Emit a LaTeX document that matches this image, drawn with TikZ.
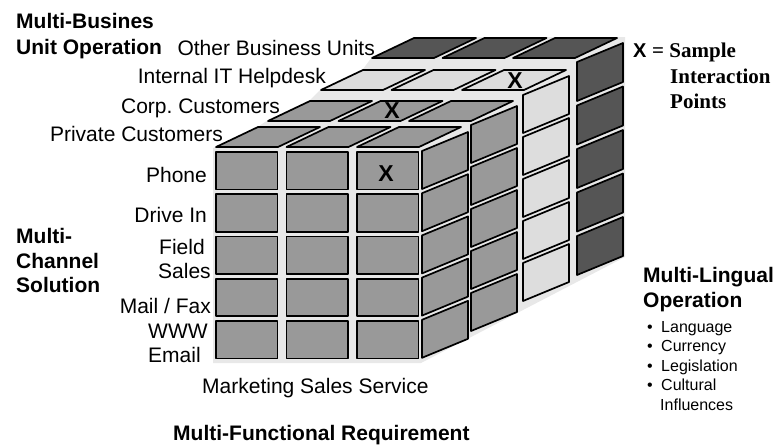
\documentclass[tikz,border=0pt]{standalone}
\usepackage{fontspec}
\setmainfont{Liberation Sans}
\newfontfamily\tnr{Liberation Serif}

\definecolor{bgface}{HTML}{E8E8E8}
\definecolor{midcell}{HTML}{999999}
\definecolor{lightcell}{HTML}{DDDDDD}
\definecolor{darkcell}{HTML}{555555}

\newcommand\lblsize{\fontsize{21}{24}\selectfont}
\newcommand\bulsize{\fontsize{16}{19}\selectfont}
\newcommand\marksize{\fontsize{23}{26}\selectfont}

\begin{document}
\frenchspacing
\begin{tikzpicture}[x=1pt,y=-1pt,
  cellline/.style={draw=black, line width=1.7pt, line join=round},
  lbl/.style={inner sep=0pt, font=\lblsize},
  head/.style={inner sep=0pt, font=\lblsize\bfseries, anchor=base west},
  bul/.style={inner sep=0pt, font=\bulsize, anchor=base west},
  xmark/.style={inner sep=0pt, font=\marksize\bfseries}]

\useasboundingbox (0,0) rectangle (778,445);

% light body of the cube behind the cells
\fill[bgface] (213,363) -- (213,148) -- (259,126) -- (268,120) -- (310,100)
  -- (321,89) -- (363,69) -- (372,57) -- (414,37) -- (625,37) -- (625,257)
  -- (421,363) -- cycle;

% slabs from back to front: top row cells and right-hand column cells
\foreach \tx/\ty/\sx/\sy/\pitch/\hgt/\col in {
    372/58/577/62/43.5/39/darkcell,
    321/90/523/95/42/38/lightcell,
    268/121/471/125/42/38/midcell,
    216/147/422/151/42.2/38/midcell} {
  \foreach \i in {0,1,2}
    \draw[cellline, fill=\col] ({\tx+70.5*\i},\ty) -- ++(62,0) -- ++(42,-20)
      -- ++(-62,0) -- cycle;
  \foreach \j in {0,...,4}
    \draw[cellline, fill=\col] (\sx,{\sy+\pitch*\j}) -- ++(46,-19)
      -- ++(0,\hgt) -- ++(-46,19) -- cycle;
}

% front face: functions x channels
\foreach \i in {0,1,2}
  \foreach \j in {0,...,4}
    \draw[cellline, fill=midcell] ({216+70.5*\i},{152+42.25*\j}) rectangle ++(61.5,37.5);

% interaction points
\node[xmark] (xphone) at (386,174) {X};
\node[xmark] (xcorp) at (392,110.5) {X};
\node[xmark] (xit) at (515,80.5) {X};

% business unit labels
\node[lbl, anchor=base east] (bu4) at (375,55) {Other Business Units};
\node[lbl, anchor=base east] (bu3) at (326,83) {Internal IT Helpdesk};
\node[lbl, anchor=base east] (bu2) at (280,113) {Corp.\ Customers};
\node[lbl, anchor=base east] (bu1) at (223,141) {Private Customers};

% channel labels
\node[lbl, anchor=base east] (ch1) at (207,182) {Phone};
\node[lbl, anchor=base east] (ch2) at (207,222) {Drive In};
\node[lbl, anchor=base west] (ch3a) at (159,254) {Field};
\node[lbl, anchor=base west] (ch3b) at (158,278) {Sales};
\node[lbl, anchor=base east] (ch4) at (211,313) {Mail / Fax};
\node[lbl, anchor=base west] (ch5a) at (148,338) {WWW};
\node[lbl, anchor=base west] (ch5b) at (148,362) {Email};

% function labels
\node[lbl, anchor=base west] (fn) at (202,393) {Marketing Sales Service};

% dimension headings
\node[head] (h1a) at (16,28) {Multi-Busines};
\node[head] (h1b) at (16,54) {Unit Operation};
\node[head] (h2a) at (16,243) {Multi-};
\node[head] (h2b) at (16,268) {Channel};
\node[head] (h2c) at (16,292) {Solution};
\node[head] (h3a) at (643,282) {Multi-Lingual};
\node[head] (h3b) at (643,307) {Operation};
\node[head] (h4) at (173,440) {Multi-Functional Requirement};

% legend
\node[inner sep=0pt, font=\fontsize{20}{24}\selectfont\bfseries, anchor=base west] (lx) at (633,57) {X};
\node[inner sep=0pt, font=\tnr\fontsize{21}{24}\selectfont\bfseries, anchor=base west] (l1) at (652,57) {= Sample};
\node[inner sep=0pt, font=\tnr\fontsize{21}{24}\selectfont\bfseries, anchor=base west] (l2) at (670,83) {Interaction};
\node[inner sep=0pt, font=\tnr\fontsize{21}{24}\selectfont\bfseries, anchor=base west] (l3) at (670,108) {Points};

% language aspects
\foreach \b/\t/\n in {332/Language/a, 351.5/Currency/b, 371/Legislation/c, 390.5/Cultural/d} {
  \node[bul] (dot\n) at (647,\b) {\textbullet};
  \node[bul] (item\n) at (661,\b) {\t};
}
\node[bul] (iteme) at (660,410) {Influences};

\end{tikzpicture}
\end{document}
